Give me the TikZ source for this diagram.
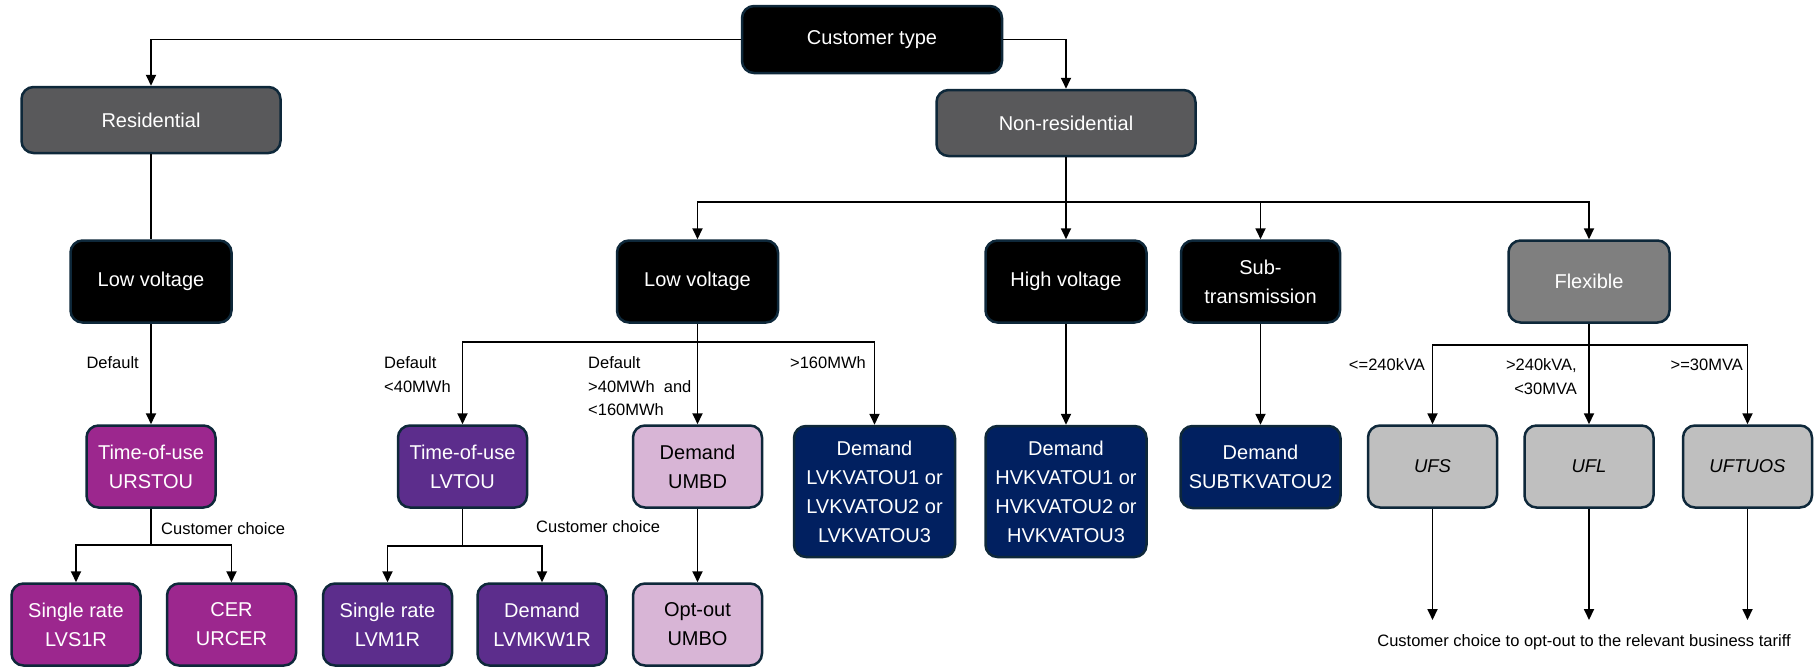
\documentclass[tikz,border=0pt]{standalone}
\usepackage{fontspec}
\setmainfont{Liberation Sans}
\usetikzlibrary{arrows.meta}
\definecolor{bord}{RGB}{14,40,58}
\definecolor{dgray}{RGB}{89,89,91}
\definecolor{mgray}{RGB}{127,127,127}
\definecolor{lgray}{RGB}{191,191,191}
\definecolor{magen}{RGB}{156,39,142}
\definecolor{purp}{RGB}{92,45,140}
\definecolor{lav}{RGB}{216,181,214}
\definecolor{navy}{RGB}{1,32,96}
\tikzset{
  box/.style={draw=bord, line width=2.5pt, rounded corners=12pt, inner sep=0pt,
    align=center, font=\fontsize{20}{29}\selectfont, text=white},
  blackbox/.style={box, fill=black},
  dgraybox/.style={box, fill=dgray, minimum width=259pt, minimum height=66pt},
  flexbox/.style={box, fill=mgray},
  magbox/.style={box, fill=magen, minimum width=129pt, minimum height=82pt},
  purbox/.style={box, fill=purp, minimum width=129pt, minimum height=82pt},
  lavbox/.style={box, fill=lav, text=black, minimum width=129pt, minimum height=82pt},
  navybox/.style={box, fill=navy, minimum width=161pt},
  greybox/.style={box, fill=lgray, text=black, minimum width=129pt, minimum height=82pt,
    font=\fontsize{18.5}{26}\selectfont\itshape},
  tier/.style={minimum width=161pt, minimum height=82pt},
  conn/.style={line width=1.8pt, draw=black},
  arr/.style={conn, -{Triangle[width=10pt,length=11pt]}},
  lbl/.style={font=\fontsize{16.5}{23.5}\selectfont, inner sep=0pt, text=black},
}
\begin{document}
\begin{tikzpicture}[x=1pt,y=-1pt]
\useasboundingbox (0,0) rectangle (1818,667);
% level 0 and 1
\node[blackbox, minimum width=260pt, minimum height=67pt] (ct) at (872,39.5) {Customer type};
\node[dgraybox] (res) at (151,120) {Residential};
\node[dgraybox] (nonres) at (1066,123) {Non-residential};
% level 2
\node[blackbox, tier] (rlv) at (151,281.5) {Low voltage};
\node[blackbox, tier] (nlv) at (697.5,281.5) {Low voltage};
\node[blackbox, tier] (hv) at (1066,281.5) {High voltage};
\node[blackbox, tier, minimum width=159pt] (sub) at (1260.5,281.5) {Sub-\\transmission};
\node[flexbox, tier] (flex) at (1589,281.5) {Flexible};
% level 3
\node[magbox] (urstou) at (151,466.5) {Time-of-use\\URSTOU};
\node[purbox] (lvtou) at (462.5,466.5) {Time-of-use\\LVTOU};
\node[lavbox] (umbd) at (697.5,466.5) {Demand\\UMBD};
\node[navybox, minimum height=131pt] (lvkva) at (874.5,491.5) {Demand\\LVKVATOU1 or\\LVKVATOU2 or\\LVKVATOU3};
\node[navybox, minimum height=131pt] (hvkva) at (1066,491.5) {Demand\\HVKVATOU1 or\\HVKVATOU2 or\\HVKVATOU3};
\node[navybox, minimum width=160pt, minimum height=82pt] (subkva) at (1260.5,467) {Demand\\SUBTKVATOU2};
\node[greybox] (ufs) at (1432.5,466.5) {UFS};
\node[greybox] (ufl) at (1589,466.5) {UFL};
\node[greybox] (uftuos) at (1747.5,466.5) {UFTUOS};
% level 4
\node[magbox] (lvs1r) at (76,624.5) {Single rate\\LVS1R};
\node[magbox] (urcer) at (231.5,624.5) {CER\\URCER};
\node[purbox] (lvm1r) at (387.5,624.5) {Single rate\\LVM1R};
\node[purbox] (lvmkw1r) at (542,624.5) {Demand\\LVMKW1R};
\node[lavbox] (umbo) at (697.5,624.5) {Opt-out\\UMBO};
% junctions
\coordinate (jn) at (1066,202);
\coordinate (jnlv) at (697.5,342);
\coordinate (jur) at (151,545);
\coordinate (jlv) at (462.5,546);
\coordinate (jfx) at (1589,345);
\coordinate (eufs) at (1432.5,620);
\coordinate (eufl) at (1589,620);
\coordinate (euft) at (1747.5,620);
% connectors
\draw[arr] (ct.west) -| (res.north);
\draw[arr] (ct.east) -| (nonres.north);
\draw[conn] (res.south) -- (rlv.north);
\draw[arr] (rlv.south) -- (urstou.north);
\draw[conn] (urstou.south) -- (jur);
\draw[arr] (jur) -| (lvs1r.north);
\draw[arr] (jur) -| (urcer.north);
\draw[conn] (nonres.south) -- (jn);
\draw[arr] (jn) -| (nlv.north);
\draw[arr] (jn) -- (hv.north);
\draw[arr] (jn) -| (sub.north);
\draw[arr] (jn) -| (flex.north);
\draw[conn] (nlv.south) -- (jnlv);
\draw[arr] (jnlv) -| (lvtou.north);
\draw[arr] (jnlv) -- (umbd.north);
\draw[arr] (jnlv) -| (lvkva.north);
\draw[conn] (lvtou.south) -- (jlv);
\draw[arr] (jlv) -| (lvm1r.north);
\draw[arr] (jlv) -| (lvmkw1r.north);
\draw[arr] (umbd.south) -- (umbo.north);
\draw[arr] (hv.south) -- (hvkva.north);
\draw[arr] (sub.south) -- (subkva.north);
\draw[conn] (flex.south) -- (jfx);
\draw[arr] (jfx) -| (ufs.north);
\draw[arr] (jfx) -- (ufl.north);
\draw[arr] (jfx) -| (uftuos.north);
\draw[arr] (ufs.south) -- (eufs);
\draw[arr] (ufl.south) -- (eufl);
\draw[arr] (uftuos.south) -- (euft);
% labels
\node[lbl, anchor=east] (l1) at (139,363) {Default};
\node[lbl, anchor=west] (l2) at (161,529) {Customer choice};
\node[lbl, anchor=west, align=left] (l3) at (384,374.5) {Default\\<40MWh};
\node[lbl, anchor=west, align=left] (l4) at (588,386.5) {Default\\>40MWh\ \ and\\<160MWh};
\node[lbl, anchor=east] (l5) at (866,363) {>160MWh};
\node[lbl, anchor=west] (l6) at (536,527) {Customer choice};
\node[lbl, anchor=east] (l7) at (1425,365) {<=240kVA};
\node[lbl, anchor=east, align=right] (l8) at (1577,376.5) {>240kVA,\\<30MVA};
\node[lbl, anchor=east] (l9) at (1743,365) {>=30MVA};
\node[lbl] (l10) at (1584,642) {Customer choice to opt-out to the relevant business tariff};
\end{tikzpicture}
\end{document}
